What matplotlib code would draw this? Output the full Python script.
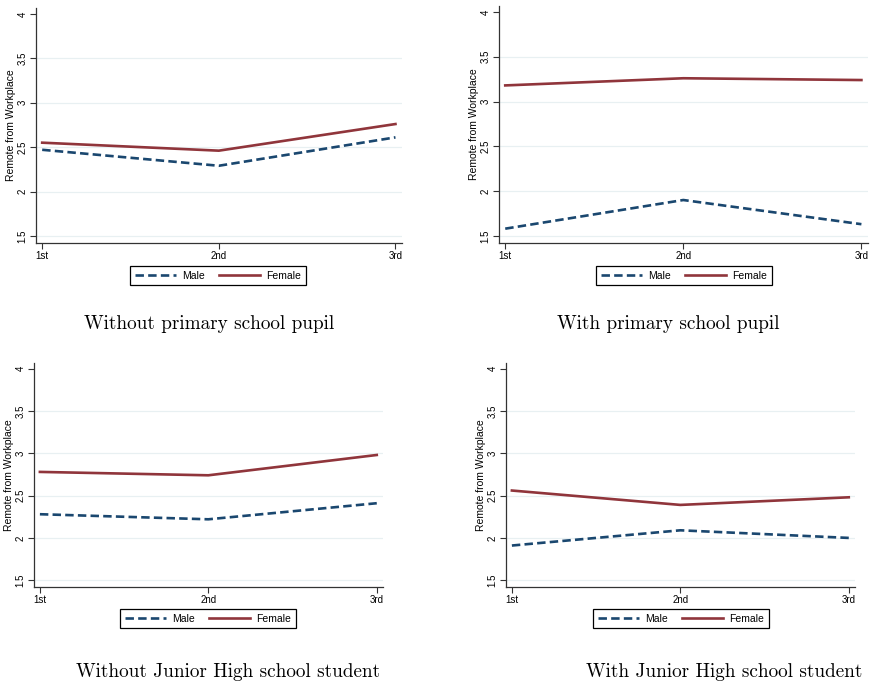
import matplotlib
matplotlib.use("Agg")
import matplotlib.pyplot as plt

plt.rcParams['font.family'] = ['Liberation Sans', 'DejaVu Sans']

# birth order of the child
order = ['1st', '2nd', '3rd']
yticks = [1.5, 2, 2.5, 3, 3.5, 4]
ytick_labels = ['1.5', '2', '2.5', '3', '3.5', '4']

# mean "remote from workplace" scores
male_no_primary = [2.47, 2.29, 2.61]
female_no_primary = [2.55, 2.46, 2.76]
male_primary = [1.58, 1.90, 1.63]
female_primary = [3.18, 3.26, 3.24]
male_no_junior = [2.28, 2.22, 2.41]
female_no_junior = [2.78, 2.74, 2.98]
male_junior = [1.91, 2.09, 2.00]
female_junior = [2.56, 2.39, 2.48]

captions = ['Without primary school pupil', 'With primary school pupil',
            'Without Junior High school student', 'With Junior High school student']

navy = '#1a476f'
maroon = '#90353b'
grid_col = '#e8f0f2'

W, H = 872, 687
fig = plt.figure(figsize=(W / 100, H / 100), dpi=100)

# panel boxes in pixels: left, top, right, bottom
boxes = [(36, 8, 402, 243), (499, 6, 868, 243),
         (34, 363, 383, 587), (506, 363, 855, 587)]
legend_spots = [(218, 266), (684, 266), (208, 609), (681, 609)]
caption_spots = [(209, 324), (668, 324), (228, 672), (724, 672)]
series = [(male_no_primary, female_no_primary), (male_primary, female_primary),
          (male_no_junior, female_no_junior), (male_junior, female_junior)]

x = [1, 2, 3]
for box, leg, cap, (m, f), text in zip(boxes, legend_spots, caption_spots, series, captions):
    l, t, r, b = box
    ax = fig.add_axes([l / W, (H - b) / H, (r - l) / W, (b - t) / H])
    for yv in yticks[:-1]:
        ax.axhline(yv, color=grid_col, lw=0.9, zorder=0)
    ax.plot(x, m, color=navy, lw=1.9, ls=(0, (3.2, 1.6)), label='Male')
    ax.plot(x, f, color=maroon, lw=1.9, label='Female')
    ax.set_xlim(0.965, 3.037)
    ax.set_ylim(1.42, 4.067)
    ax.set_xticks(x)
    ax.set_xticklabels(order, fontsize=7)
    ax.set_yticks(yticks)
    ax.set_yticklabels(ytick_labels, fontsize=7, rotation=90, va='center')
    ax.set_ylabel('Remote from Workplace', fontsize=7.5, labelpad=1)
    ax.tick_params(length=4.5, width=0.8, pad=1.5, color='#333333')
    for s in ['top', 'right']:
        ax.spines[s].set_visible(False)
    for s in ['left', 'bottom']:
        ax.spines[s].set_color('#333333')
        ax.spines[s].set_linewidth(0.9)
    lg = ax.legend(loc='upper center', bbox_to_anchor=(leg[0] / W, 1 - leg[1] / H),
                   bbox_transform=fig.transFigure, borderaxespad=0, ncol=2, fontsize=7.5,
                   handlelength=3.9, handletextpad=0.6, columnspacing=1.4,
                   borderpad=0.45, fancybox=False, framealpha=1, edgecolor='black')
    lg.get_frame().set_linewidth(0.9)
    fig.text(cap[0] / W, 1 - cap[1] / H, text, family='cmr10', fontsize=13.8,
             ha='center', va='center')

fig.savefig('out.png', dpi=100)
